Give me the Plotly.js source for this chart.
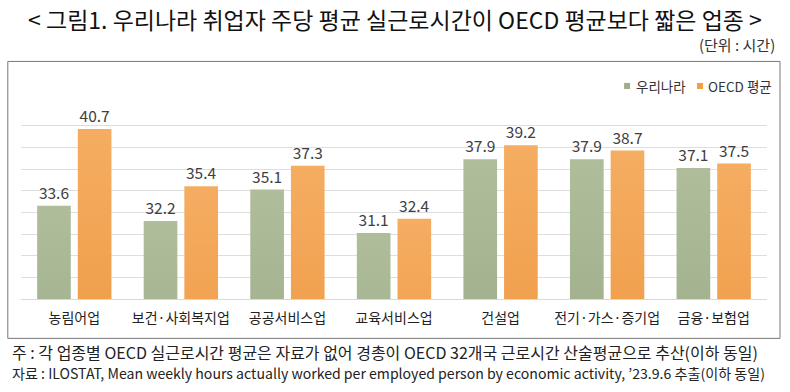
<!DOCTYPE html>
<html>
<head>
<meta charset="utf-8">
<script src="https://cdn.plot.ly/plotly-3.0.1.min.js"></script>
<style>
html,body{margin:0;padding:0;background:#fff;}
#chart{width:790px;height:392px;}
</style>
</head>
<body>
<div id="chart"></div>
<script>
const categories = ['농림어업', '보건·사회복지업', '공공서비스업', '교육서비스업', '건설업', '전기·가스·증기업', '금융·보험업'];
const korea = [33.6, 32.2, 35.1, 31.1, 37.9, 37.9, 37.1];
const oecd = [40.7, 35.4, 37.3, 32.4, 39.2, 38.7, 37.5];
const seriesNames = ['우리나라', 'OECD 평균'];
const seriesColors = ['#9eaf87', '#f39f3e'];
const titleText = '&lt; 그림1. 우리나라 취업자 주당 평균 실근로시간이 OECD 평균보다 짧은 업종 &gt;';
const unitText = '(단위 : 시간)';
const note1 = '주 : 각 업종별 OECD 실근로시간 평균은 자료가 없어 경총이 OECD 32개국 근로시간 산술평균으로 추산(이하 동일)';
const note2 = '자료 : ILOSTAT, Mean weekly hours actually worked per employed person by economic activity, ’23.9.6 추출(이하 동일)';

const W = 790, H = 392;
const L = 20.7, R = 767, T = 104, B = 298.7;
const px = x => (x - L) / (R - L);
const py = y => (B - y) / (B - T);

const font = '"Noto Sans CJK KR", "Noto Sans", sans-serif';

const traces = [
  {type:'bar', name:seriesNames[0], x:categories, y:korea, marker:{color:seriesColors[0]},
   text:korea.map(v=>v.toFixed(1)), textposition:'outside', cliponaxis:false, showlegend:false,
   textfont:{family:font, size:15.5, color:'#404040'}},
  {type:'bar', name:seriesNames[1], x:categories, y:oecd, marker:{color:seriesColors[1]},
   text:oecd.map(v=>v.toFixed(1)), textposition:'outside', cliponaxis:false, showlegend:false,
   textfont:{family:font, size:15.5, color:'#404040'}}
];

const layout = {
  width:W, height:H,
  margin:{l:L, r:W-R, t:T, b:H-B, pad:0},
  paper_bgcolor:'#fff', plot_bgcolor:'#fff',
  font:{family:font, color:'#222'},
  barmode:'group', bargap:0.237, bargroupgap:0.172,
  showlegend:false,
  title:{text:titleText, x:0.5, xanchor:'center', y:1-21/H, yanchor:'middle', yref:'container',
         font:{family:font, size:23, color:'#111'}},
  xaxis:{showgrid:false, zeroline:false, showline:true, linecolor:'#d9d9d9', linewidth:1,
         ticks:'', ticklabelstandoff:6, tickfont:{family:font, size:14, color:'#222'}, fixedrange:true},
  yaxis:{range:[25,43], tick0:25, dtick:2, showgrid:true, gridcolor:'#dedede', gridwidth:1,
         showticklabels:false, zeroline:false, showline:false, ticks:'', fixedrange:true},
  shapes:[
    {type:'rect', xref:'paper', yref:'paper', x0:px(7.5), x1:px(780), y0:py(338), y1:py(61.5),
     line:{color:'#777', width:1}, fillcolor:'rgba(0,0,0,0)', layer:'below'},
    {type:'rect', xref:'paper', yref:'paper', x0:px(624), x1:px(630), y0:py(89), y1:py(83),
     line:{width:0}, fillcolor:seriesColors[0]},
    {type:'rect', xref:'paper', yref:'paper', x0:px(697), x1:px(703), y0:py(89), y1:py(83),
     line:{width:0}, fillcolor:seriesColors[1]}
  ],
  annotations:[
    {xref:'paper', yref:'paper', x:px(634), y:py(86), xanchor:'left', yanchor:'middle', showarrow:false,
     text:seriesNames[0], font:{family:font, size:13.5, color:'#333'}},
    {xref:'paper', yref:'paper', x:px(706), y:py(86), xanchor:'left', yanchor:'middle', showarrow:false,
     text:seriesNames[1], font:{family:font, size:13.5, color:'#333'}},
    {xref:'paper', yref:'paper', x:px(777), y:py(45), xanchor:'right', yanchor:'middle', showarrow:false,
     text:unitText, font:{family:font, size:15, color:'#333'}},
    {xref:'paper', yref:'paper', x:px(10), y:py(352), xanchor:'left', yanchor:'middle', showarrow:false,
     text:note1, font:{family:font, size:16, color:'#222'}},
    {xref:'paper', yref:'paper', x:px(10), y:py(373), xanchor:'left', yanchor:'middle', showarrow:false,
     text:note2, font:{family:font, size:14.1, color:'#222'}}
  ]
};

function applyGradients(gd) {
  try {
    const svg = gd.querySelector('svg.main-svg');
    const ns = 'http://www.w3.org/2000/svg';
    const defs = document.createElementNS(ns, 'defs');
    const grads = [['gradG', '#afbd9b', '#8c9d76'], ['gradO', '#f5ad62', '#e98b2b']];
    grads.forEach(([id, c1, c2]) => {
      const g = document.createElementNS(ns, 'linearGradient');
      g.setAttribute('id', id); g.setAttribute('x1','0'); g.setAttribute('y1','0'); g.setAttribute('x2','0'); g.setAttribute('y2','1');
      const s1 = document.createElementNS(ns, 'stop'); s1.setAttribute('offset','0'); s1.setAttribute('stop-color', c1);
      const s2 = document.createElementNS(ns, 'stop'); s2.setAttribute('offset','1'); s2.setAttribute('stop-color', c2);
      g.appendChild(s1); g.appendChild(s2); defs.appendChild(g);
    });
    svg.insertBefore(defs, svg.firstChild);
    gd.querySelectorAll('.barlayer .trace.bars').forEach((tg, i) => {
      tg.querySelectorAll('.point path').forEach(p => { p.style.fill = 'url(#' + grads[i][0] + ')'; });
    });
  } catch (e) {}
}

const ready = (document.fonts && document.fonts.ready) ? document.fonts.ready : Promise.resolve();
ready.then(() => Plotly.newPlot('chart', traces, layout, {staticPlot:true, displayModeBar:false}))
  .then(gd => Plotly.react(gd, traces, layout, {staticPlot:true, displayModeBar:false}))
  .then(gd => applyGradients(gd));
</script>
</body>
</html>
